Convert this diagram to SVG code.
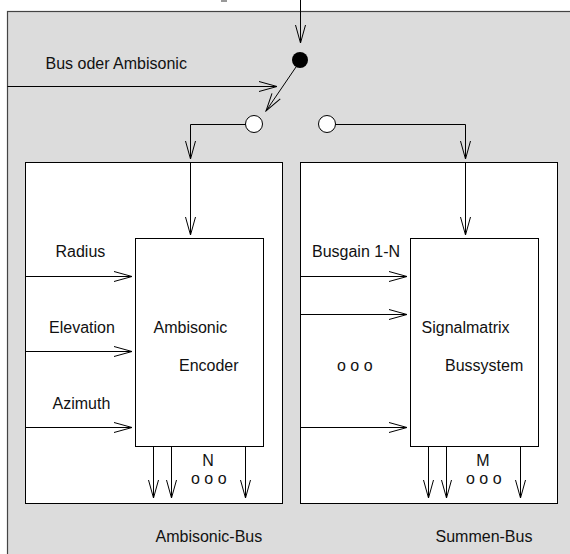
<svg xmlns="http://www.w3.org/2000/svg" width="570" height="554" viewBox="0 0 570 554">
<style>
  text { font-family: "Liberation Sans", Arial, sans-serif; font-size: 16px; fill: #111; }
  .box { fill: #fff; stroke: #000; stroke-width: 1; }
  .ln { fill: none; stroke: #000; stroke-width: 1; marker-end: url(#arr); }
</style>
<defs>
  <marker id="arr" markerUnits="userSpaceOnUse" markerWidth="20" markerHeight="12" viewBox="-19 -6 20 12" refX="0" refY="0" orient="auto">
    <path d="M-18,-5 L0,0 L-18,5" fill="none" stroke="#000" stroke-width="1"/>
  </marker>
</defs>
<rect width="570" height="554" fill="#fff"/>
<rect x="221" y="0" width="6" height="2" fill="#999"/>
<g id="outer">
  <rect x="7.5" y="11.5" width="600" height="600" fill="#dcdcdc" stroke="#444" stroke-width="1.2"/>
</g>
<g id="left-box">
  <rect class="box" x="25.5" y="162.5" width="257" height="341"/>
</g>
<g id="right-box">
  <rect class="box" x="300.5" y="162.5" width="257" height="341"/>
</g>
<g id="encoder">
  <rect class="box" x="135.5" y="238.5" width="128" height="208"/>
  <text x="153.5" y="333">Ambisonic</text>
  <text x="179" y="371">Encoder</text>
</g>
<g id="signalmatrix">
  <rect class="box" x="410.5" y="238.5" width="128" height="208"/>
  <text x="421.5" y="333">Signalmatrix</text>
  <text x="445" y="371">Bussystem</text>
</g>
<g id="switch">
  <circle cx="300" cy="60" r="8" fill="#000"/>
  <circle cx="254" cy="124" r="8.5" fill="#fff" stroke="#000"/>
  <circle cx="327" cy="124" r="8.5" fill="#fff" stroke="#000"/>
</g>
<g id="connectors">
  <line class="ln" x1="300.5" y1="0" x2="300.5" y2="43"/>
  <line class="ln" x1="7.5" y1="86.5" x2="277" y2="86.5"/>
  <line class="ln" x1="296" y1="67" x2="266" y2="111"/>
  <polyline class="ln" points="245.5,124.5 190.5,124.5 190.5,159"/>
  <line class="ln" x1="190.5" y1="162" x2="190.5" y2="235"/>
  <polyline class="ln" points="335.5,124.5 465.5,124.5 465.5,159"/>
  <line class="ln" x1="465.5" y1="162" x2="465.5" y2="235"/>
  <line class="ln" x1="25.5" y1="276.5" x2="132" y2="276.5"/>
  <line class="ln" x1="25.5" y1="351.5" x2="132" y2="351.5"/>
  <line class="ln" x1="25.5" y1="427.5" x2="132" y2="427.5"/>
  <line class="ln" x1="300.5" y1="276.5" x2="407" y2="276.5"/>
  <line class="ln" x1="300.5" y1="314.5" x2="407" y2="314.5"/>
  <line class="ln" x1="300.5" y1="427.5" x2="407" y2="427.5"/>
  <line class="ln" x1="153.5" y1="446.5" x2="153.5" y2="498"/>
  <line class="ln" x1="171.5" y1="446.5" x2="171.5" y2="498"/>
  <line class="ln" x1="245.5" y1="446.5" x2="245.5" y2="498"/>
  <line class="ln" x1="428.5" y1="446.5" x2="428.5" y2="498"/>
  <line class="ln" x1="446.5" y1="446.5" x2="446.5" y2="498"/>
  <line class="ln" x1="520.5" y1="446.5" x2="520.5" y2="498"/>
</g>
<g id="labels">
  <text x="45.5" y="68.5">Bus oder Ambisonic</text>
  <text x="55.5" y="257">Radius</text>
  <text x="49" y="333">Elevation</text>
  <text x="52.5" y="409">Azimuth</text>
  <text x="312" y="257">Busgain 1-N</text>
  <text x="337" y="371">o o o</text>
  <text x="208" y="466" text-anchor="middle">N</text>
  <text x="191" y="484">o o o</text>
  <text x="483" y="466" text-anchor="middle">M</text>
  <text x="466" y="484">o o o</text>
  <text x="155.5" y="542">Ambisonic-Bus</text>
  <text x="435.5" y="542">Summen-Bus</text>
</g>
</svg>
